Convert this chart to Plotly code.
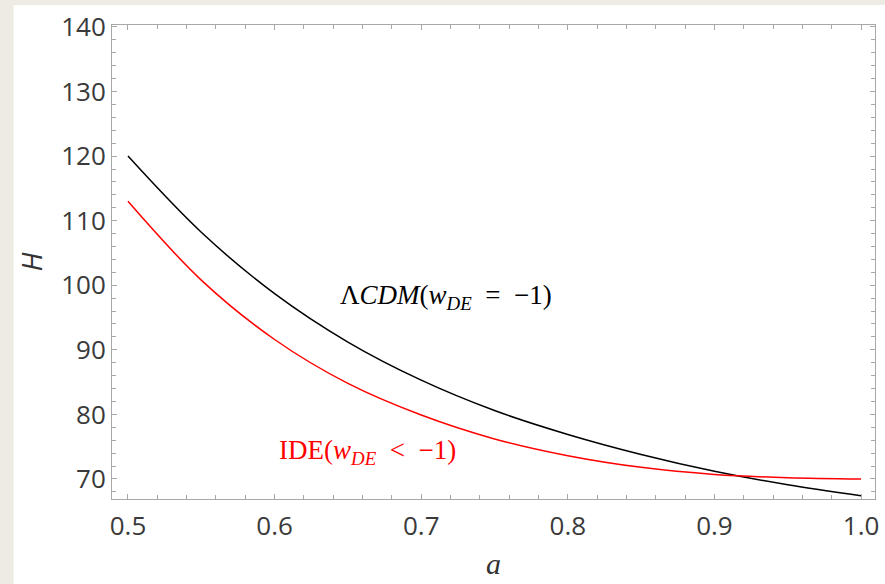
import plotly.graph_objects as go

# Data
a_vals = [0.50, 0.55, 0.60, 0.65, 0.70, 0.75, 0.80, 0.85, 0.90, 0.95, 1.00]
H_lcdm = [120.0, 108.2, 98.7, 91.2, 85.3, 80.6, 76.9, 73.8, 71.2, 69.1, 67.4]
H_ide = [113.0, 100.8, 91.6, 84.8, 79.9, 76.2, 73.6, 71.8, 70.7, 70.2, 70.0]

x_ticks = [0.5, 0.6, 0.7, 0.8, 0.9, 1.0]
x_ticktext = ["0.5", "0.6", "0.7", "0.8", "0.9", "1.0"]
y_ticks = [70, 80, 90, 100, 110, 120, 130, 140]
y_ticktext = ["70", "80", "90", "100", "110", "120", "130", "140"]

label_lcdm = "Λ<i>CDM</i>(<i>w</i><sub><i>DE</i></sub>  =  −1)"
label_ide = "IDE(<i>w</i><sub><i>DE</i></sub>  &lt;  −1)"

fig = go.Figure()
fig.add_trace(go.Scatter(x=a_vals, y=H_lcdm, mode="lines",
                         line=dict(color="black", width=1.5, shape="spline"),
                         showlegend=False, hoverinfo="skip"))
fig.add_trace(go.Scatter(x=a_vals, y=H_ide, mode="lines",
                         line=dict(color="#ff0000", width=1.5, shape="spline"),
                         showlegend=False, hoverinfo="skip"))

frame_col = "#a8a8a8"
tick_font = dict(family="Open Sans", size=26, color="#3a3a3a")

fig.update_xaxes(range=[0.4891, 1.0095], showline=True, linecolor=frame_col, linewidth=1,
                 mirror="ticks", ticks="inside", ticklen=5, tickcolor=frame_col,
                 tickvals=x_ticks, ticktext=x_ticktext, tickfont=tick_font,
                 showgrid=False, zeroline=False, ticklabelstandoff=4,
                 minor=dict(dtick=0.02, tick0=0.5, ticks="inside", ticklen=4, tickcolor=frame_col, showgrid=False),
                 title=dict(text="<i>a</i>", font=dict(family="Liberation Serif", size=30, color="#333333"), standoff=10))
fig.update_yaxes(range=[66.9, 140.3], showline=True, linecolor=frame_col, linewidth=1,
                 mirror="ticks", ticks="inside", ticklen=5, tickcolor=frame_col,
                 tickvals=y_ticks, ticktext=y_ticktext, tickfont=tick_font,
                 showgrid=False, zeroline=False,
                 minor=dict(dtick=2, tick0=70, ticks="inside", ticklen=4, tickcolor=frame_col, showgrid=False),
                 title=dict(text="<i>H</i>", font=dict(family="Open Sans", size=28, color="#333333"), standoff=10))

fig.add_annotation(x=0.717, y=98.2, xref="x", yref="y", text=label_lcdm, showarrow=False,
                   font=dict(family="Liberation Serif", size=27, color="black"))
fig.add_annotation(x=0.6635, y=74.2, xref="x", yref="y", text=label_ide, showarrow=False,
                   font=dict(family="Liberation Serif", size=27, color="#ff0000"))

# white panel over beige page
fig.add_shape(type="rect", xref="paper", yref="paper", x0=-0.129, x1=1.2, y0=-0.3, y1=1.042,
              fillcolor="white", line=dict(width=0), layer="below")

fig.update_layout(width=885, height=584, margin=dict(l=112, r=6, t=25, b=85),
                  paper_bgcolor="#eeebe4", plot_bgcolor="white")

fig.write_html("out.html")
